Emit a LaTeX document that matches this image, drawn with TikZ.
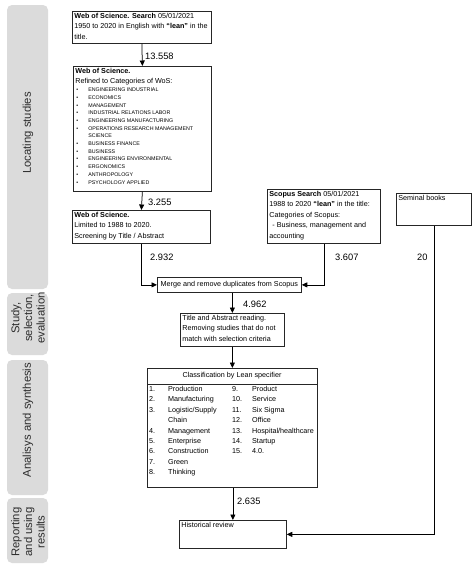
\documentclass[tikz,border=0pt]{standalone}
\usepackage{fontspec}
\setmainfont{Liberation Sans}
\usetikzlibrary{arrows.meta}
\newcommand{\boxtxt}[3]{\parbox[c][#2][t]{#1}{\raggedright #3}}
\definecolor{panelgray}{RGB}{219,219,219}
\definecolor{labelgray}{RGB}{45,45,45}
\begin{document}
\begin{tikzpicture}[x=1pt,y=-1pt,
  boxs/.style={draw=black!85, line width=0.75pt, inner sep=2pt, anchor=north west, font=\fontsize{7.2}{10.4}\selectfont, fill=white},
  panel/.style={fill=panelgray, rounded corners=5pt, draw=none, minimum width=41pt, inner sep=0},
  plabel/.style={rotate=90, font=\fontsize{11.3}{12.6}\selectfont, text=labelgray, align=center, inner sep=0},
  num/.style={anchor=west, font=\fontsize{9.3}{11}\selectfont, inner sep=0},
  arr/.style={-{Triangle[length=5.5pt,width=5pt]}, line width=0.75pt},
  ln/.style={line width=0.75pt}]
\useasboundingbox (0,0) rectangle (474,570);

% side panels
\node[panel, minimum height=284pt] (p1) at (27.5,147) {};
\node[panel, minimum height=62pt] (p2) at (27.5,324) {};
\node[panel, minimum height=135pt] (p3) at (27.5,427.5) {};
\node[panel, minimum height=65pt] (p4) at (27.5,530.5) {};
\node[plabel] (l1) at (28,133) {Locating studies};
\node[plabel] (l2) at (28,318) {Study,\\selection,\\evaluation};
\node[plabel] (l3) at (28,420) {Analisys and synthesis};
\node[plabel] (l4) at (28,532) {Reporting\\and using\\results};

% boxes
\node[boxs] (wos1) at (72,11) {\boxtxt{135pt}{28pt}{\textbf{Web of Science. Search} 05/01/2021\\1950 to 2020 in English with \textbf{“lean”} in the title.}};
\node[boxs] (wos2) at (73,66) {\boxtxt{134pt}{121pt}{\textbf{Web of Science.}\\Refined to Categories of WoS:\par
{\fontsize{5.3}{7.7}\selectfont
\makebox[13pt][l]{\hspace{1pt}•}ENGINEERING INDUSTRIAL\\
\makebox[13pt][l]{\hspace{1pt}•}ECONOMICS\\
\makebox[13pt][l]{\hspace{1pt}•}MANAGEMENT\\
\makebox[13pt][l]{\hspace{1pt}•}INDUSTRIAL RELATIONS LABOR\\
\makebox[13pt][l]{\hspace{1pt}•}ENGINEERING MANUFACTURING\\
\makebox[13pt][l]{\hspace{1pt}•}OPERATIONS RESEARCH MANAGEMENT\\
\hspace*{13pt}SCIENCE\\
\makebox[13pt][l]{\hspace{1pt}•}BUSINESS FINANCE\\
\makebox[13pt][l]{\hspace{1pt}•}BUSINESS\\
\makebox[13pt][l]{\hspace{1pt}•}ENGINEERING ENVIRONMENTAL\\
\makebox[13pt][l]{\hspace{1pt}•}ERGONOMICS\\
\makebox[13pt][l]{\hspace{1pt}•}ANTHROPOLOGY\\
\makebox[13pt][l]{\hspace{1pt}•}PSYCHOLOGY APPLIED\par}}};
\node[boxs] (wos3) at (72,210) {\boxtxt{134pt}{29pt}{\textbf{Web of Science.}\\Limited to 1988 to 2020.\\Screening by Title / Abstract}};
\node[boxs] (scopus) at (267,189) {\boxtxt{109pt}{50pt}{\textbf{Scopus Search} 05/01/2021\\1988 to 2020 \textbf{“lean”} in the title:\\Categories of Scopus:\\\hspace*{3pt}- Business, management and\\accounting}};
\node[boxs] (seminal) at (396,193) {\boxtxt{71pt}{28pt}{Seminal books}};
\node[boxs, minimum width=144pt, minimum height=15pt, inner sep=0, align=center] (merge) at (157,277) {Merge and remove duplicates from Scopus};
\node[boxs] (title) at (180,313) {\boxtxt{100pt}{29pt}{Title and Abstract reading.\\Removing studies that do not\\match with selection criteria}};
\node[boxs, minimum width=170pt, minimum height=119pt, inner sep=0] (class) at (147,368) {};
\draw[ln, draw=black!85] ([yshift=-16pt]class.north west) -- ([yshift=-16pt]class.north east);
\node[font=\fontsize{7.2}{10.4}\selectfont, inner sep=0] (classh) at (232,376) {Classification by Lean specifier};
\node[anchor=north west, inner sep=0, font=\fontsize{7.2}{10.4}\selectfont] (classitems) at (149,384) {%
\begin{tabular}{@{}p{19pt}@{}p{64pt}@{}p{20pt}@{}l@{}}
1. & Production & 9. & Product\\
2. & Manufacturing & 10. & Service\\
3. & Logistic/Supply & 11. & Six Sigma\\
 & Chain & 12. & Office\\
4. & Management & 13. & Hospital/healthcare\\
5. & Enterprise & 14. & Startup\\
6. & Construction & 15. & 4.0.\\
7. & Green & & \\
8. & Thinking & & \\
\end{tabular}};
\node[boxs] (hist) at (179,520) {\boxtxt{103pt}{24pt}{Historical review}};

% connectors
\draw[arr] (wos1.south) -- (wos2.north);
\draw[arr] (wos2.south) -- (wos3.north);
\draw[arr] (wos3.south) |- (merge.west);
\draw[arr] (scopus.south) |- (merge.east);
\draw[arr] (merge.south -| title.north) -- (title.north);
\draw[arr] (title.south) -- (class.north -| title.south);
\draw[arr] (class.south -| hist.north) -- (hist.north);
\draw[arr] (seminal.south) |- (hist.east);

% numbers
\node[num] (n1) at (145,56) {13.558};
\node[num] (n2) at (148,202) {3.255};
\node[num] (n3) at (150,257) {2.932};
\node[num] (n4) at (335,257) {3.607};
\node[num] (n5) at (417,257) {20};
\node[num] (n6) at (243,304) {4.962};
\node[num] (n7) at (237,501) {2.635};
\end{tikzpicture}
\end{document}
